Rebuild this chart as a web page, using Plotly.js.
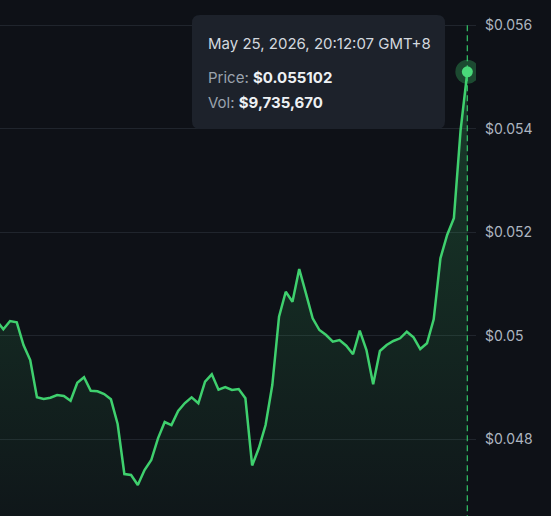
<!DOCTYPE html>
<html>
<head>
<meta charset="utf-8">
<script src="https://cdn.plot.ly/plotly-3.0.1.min.js"></script>
<style>
  html, body { margin: 0; padding: 0; background: #0e1117; }
  #chart { width: 551px; height: 516px; }
</style>
</head>
<body>
<div id="chart"></div>
<script>
// ---- data ----
const prices = [
  0.050292, 0.050126, 0.050286, 0.050261, 0.049822, 0.049532, 0.048812, 0.048779, 0.048804, 0.048856,
  0.048837, 0.048746, 0.049094, 0.049198, 0.048939, 0.048928, 0.048875, 0.048773, 0.048296, 0.047329,
  0.047310, 0.047117, 0.047407, 0.047600, 0.048019, 0.048334, 0.048276, 0.048547, 0.048701, 0.048812,
  0.048696, 0.049113, 0.049256, 0.048958, 0.049011, 0.048953, 0.048972, 0.048792, 0.047494, 0.047832,
  0.048276, 0.049049, 0.050369, 0.050852, 0.050659, 0.051291, 0.050821, 0.050338, 0.050112, 0.050015,
  0.049886, 0.049919, 0.049809, 0.049643, 0.050099, 0.049726, 0.049063, 0.049706, 0.049822, 0.049900,
  0.049952, 0.050079, 0.049971, 0.049745, 0.049855, 0.050319, 0.051498, 0.051948, 0.052271, 0.053977,
  0.055102
];
const yTickVals = [0.048, 0.050, 0.052, 0.054, 0.056];
const yTickText = ["$0.048", "$0.05", "$0.052", "$0.054", "$0.056"];
const tipDate = "May 25, 2026, 20:12:07 GMT+8";
const tipPrice = "$0.055102";
const tipVol = "$9,735,670";

// ---- layout helpers ----
const W = 551, H = 516, R = 75;
const plotW = W - R, plotH = H;
const px = x => x / plotW;
const py = y => 1 - y / plotH;
const idx = prices.map((_, i) => i);
const lastI = idx.length - 1;
const lastP = prices[lastI];

const green = '#3fd06e';
const yRange = [0.046518, 0.056489];

function roundRectPath(x0, y0, x1, y1, r) {
  const P = (x, y) => px(x) + ',' + py(y);
  return 'M' + P(x0 + r, y0) +
    ' L' + P(x1 - r, y0) + ' Q' + P(x1, y0) + ' ' + P(x1, y0 + r) +
    ' L' + P(x1, y1 - r) + ' Q' + P(x1, y1) + ' ' + P(x1 - r, y1) +
    ' L' + P(x0 + r, y1) + ' Q' + P(x0, y1) + ' ' + P(x0, y1 - r) +
    ' L' + P(x0, y0 + r) + ' Q' + P(x0, y0) + ' ' + P(x0 + r, y0) + ' Z';
}

const traces = [
  {
    x: idx, y: prices, type: 'scatter', mode: 'lines',
    line: { color: green, width: 2.5, shape: 'linear' },
    fill: 'tozeroy',
    fillgradient: {
      type: 'vertical',
      start: yRange[0], stop: 0.0555,
      colorscale: [[0, 'rgba(63,207,110,0.03)'], [1, 'rgba(63,207,110,0.24)']]
    },
    hoverinfo: 'skip'
  },
  {
    // crosshair at the hovered (last) point
    x: [lastI, lastI], y: [yTickVals[yTickVals.length - 1], yRange[0]],
    type: 'scatter', mode: 'lines',
    line: { color: 'rgba(52,200,105,0.9)', width: 1.3, dash: '6px,4px' },
    hoverinfo: 'skip'
  },
  {
    x: [lastI], y: [lastP], type: 'scatter', mode: 'markers',
    marker: { size: 24, color: 'rgba(63,207,110,0.3)' }, hoverinfo: 'skip'
  },
  {
    x: [lastI], y: [lastP], type: 'scatter', mode: 'markers',
    marker: { size: 11, color: '#4ad97a' }, hoverinfo: 'skip'
  }
];

const fontFam = 'Inter, "Noto Sans", sans-serif';

const layout = {
  width: W, height: H,
  margin: { l: 0, r: R, t: 0, b: 0, pad: 0 },
  paper_bgcolor: '#0e1117', plot_bgcolor: '#0e1117',
  showlegend: false,
  xaxis: { range: [0.506, 71.29], visible: false, fixedrange: true },
  yaxis: {
    side: 'right', range: yRange,
    tickvals: yTickVals, ticktext: yTickText,
    showgrid: true, gridcolor: '#20252d', gridwidth: 1,
    zeroline: false, showline: false, ticks: '',
    ticklabelstandoff: 8,
    tickfont: { family: fontFam, size: 14, color: '#adb5c0' },
    fixedrange: true
  },
  shapes: [
    {
      type: 'path', xref: 'paper', yref: 'paper',
      path: roundRectPath(192, 15, 445, 129, 8),
      fillcolor: '#1d222b', line: { width: 0 }, layer: 'above'
    }
  ],
  annotations: [
    {
      xref: 'paper', yref: 'paper', x: px(206), y: py(43),
      xanchor: 'left', yanchor: 'middle', showarrow: false,
      text: tipDate,
      font: { family: fontFam, size: 15, color: '#d3d8df' }
    },
    {
      xref: 'paper', yref: 'paper', x: px(206), y: py(77.5),
      xanchor: 'left', yanchor: 'middle', showarrow: false,
      text: '<span style="color:#9aa3ae">Price: </span><b>' + tipPrice + '</b>',
      font: { family: fontFam, size: 15, color: '#eef1f4' }
    },
    {
      xref: 'paper', yref: 'paper', x: px(206), y: py(102),
      xanchor: 'left', yanchor: 'middle', showarrow: false,
      text: '<span style="color:#9aa3ae">Vol: </span><b>' + tipVol + '</b>',
      font: { family: fontFam, size: 15, color: '#eef1f4' }
    }
  ]
};

Plotly.newPlot('chart', traces, layout, { staticPlot: true, displayModeBar: false });
</script>
</body>
</html>
